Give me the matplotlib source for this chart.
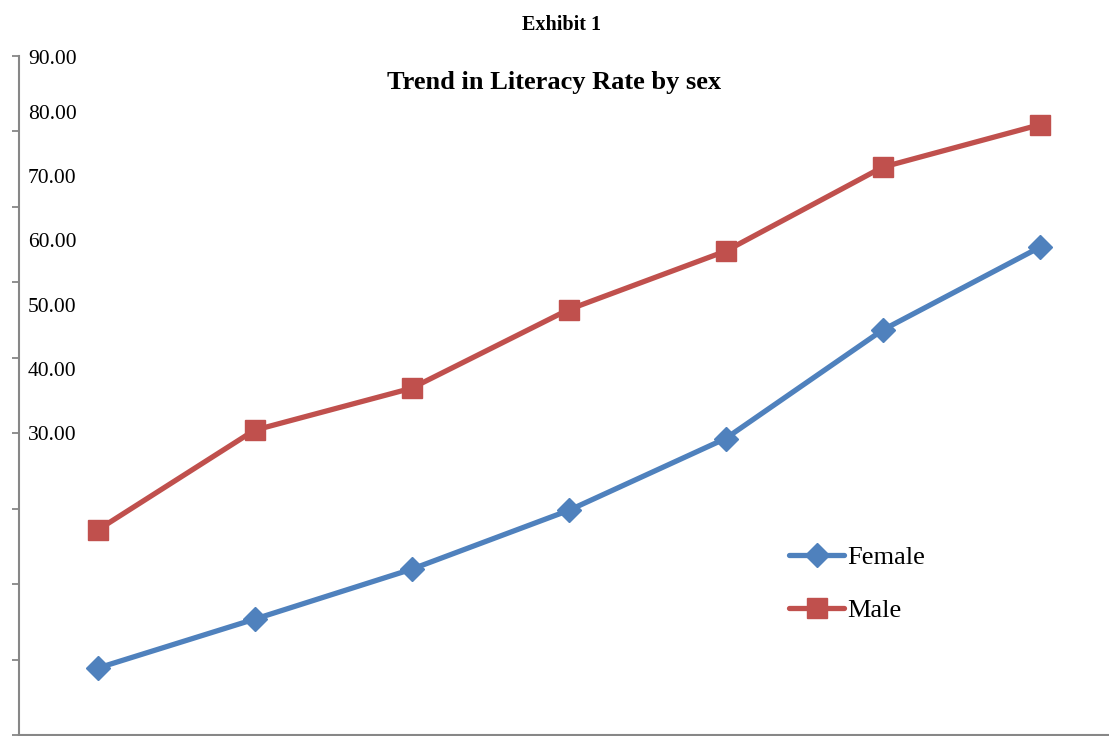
import numpy as np
import matplotlib.pyplot as plt

plt.rcParams['font.family'] = ['Liberation Serif', 'DejaVu Serif']

# Census years (not shown on the axis) and literacy rates in percent
years = ['1951', '1961', '1971', '1981', '1991', '2001', '2011']
female = [8.86, 15.35, 21.97, 29.76, 39.29, 53.67, 64.63]
male = [27.16, 40.40, 45.96, 56.38, 64.13, 75.26, 80.88]
label_values = [90, 80, 70, 60, 50, 40, 30]

blue = '#4F81BD'
red = '#C0504D'
grey = '#878787'

fig = plt.figure(figsize=(11.09, 7.36), dpi=100)
ax = fig.add_axes([19 / 1109, 1 / 736, 1099 / 1109, 679 / 736])

x = np.arange(len(years))
ax.plot(x, female, color=blue, lw=3.8, marker='D', ms=12,
        mec=blue, mfc=blue, label='Female', solid_capstyle='round')
ax.plot(x, male, color=red, lw=3.8, marker='s', ms=15,
        mec=red, mfc=red, label='Male', solid_capstyle='round')

ax.set_xlim(-0.5, len(years) - 0.5)
ax.set_ylim(0, 90)
ax.set_yticks(np.arange(0, 91, 10))
ax.set_yticklabels([])
ax.set_xticks([])
ax.tick_params(axis='y', direction='out', length=5, width=1.3, color=grey)

for side in ['top', 'right']:
    ax.spines[side].set_visible(False)
for side in ['left', 'bottom']:
    ax.spines[side].set_color(grey)
    ax.spines[side].set_linewidth(1.5)

# value labels sit inside the plot, spaced a bit tighter than the ticks;
# the top one is pinned to the top of the axis
for v in label_values:
    ypos = min(90, 82.7 + (v - 80) * 0.851) - 0.45
    ax.text(0.008, ypos, '%.2f' % v, fontsize=15.5,
            va='center', ha='left', transform=ax.get_yaxis_transform())

fig.text(562 / 1109, 1 - 25 / 736, 'Exhibit 1', fontsize=14.5,
         fontweight='bold', ha='center', va='center')
fig.text(554 / 1109, 1 - 82 / 736, 'Trend in Literacy Rate by sex',
         fontsize=19, fontweight='bold', ha='center', va='center')

ax.legend(loc='upper left', bbox_to_anchor=(789 / 1109, 1 - 546 / 736),
          bbox_transform=fig.transFigure, frameon=False, fontsize=19,
          handlelength=2.1, handletextpad=0.1, labelspacing=1.1,
          borderpad=0, borderaxespad=0)

fig.savefig('out.png', dpi=100)
